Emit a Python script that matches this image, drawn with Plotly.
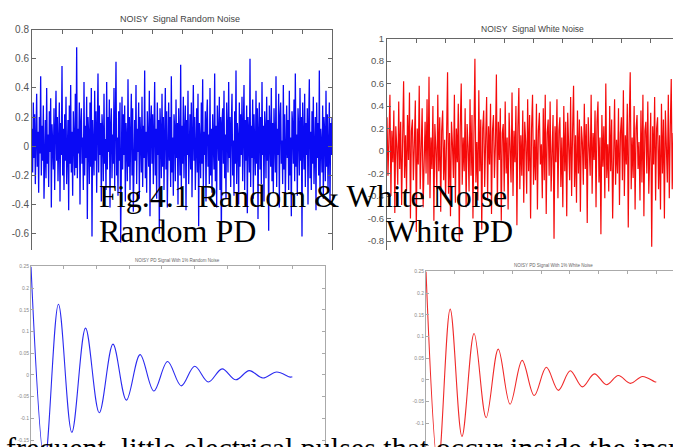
import plotly.graph_objects as go

W, H = 673, 447

# ---------------- data ----------------
random_noise = [
    0.12, -0.18, 0.3, -0.08, 0.22, -0.26, 0.05, 0.36, -0.14, 0.1, -0.32, 0.2, -0.05, 0.48, -0.2, 0.14, -0.1, 0.28, -0.36, 0.06,
    0.18, -0.22, 0.4, -0.12, 0.08, -0.28, 0.24, -0.04, 0.33, -0.42, 0.15, 0.02, -0.16, 0.26, -0.3, 0.1, 0.38, -0.1, 0.2, -0.24,
    0.05, 0.3, -0.38, 0.16, -0.06, 0.55, -0.2, 0.12, -0.3, 0.22, -0.1, 0.34, -0.26, 0.08, 0.18, -0.44, 0.28, -0.12, 0.42, -0.18,
    0.1, -0.34, 0.24, 0.04, -0.2, 0.36, -0.15, 0.68, -0.22, 0.12, -0.05, 0.3, -0.4, 0.16, 0.26, -0.12, 0.06, -0.3, 0.44, -0.2,
    0.14, -0.08, 0.34, -0.5, 0.2, 0.08, -0.26, 0.3, -0.14, 0.4, -0.62, 0.18, 0.02, -0.2, 0.38, -0.1, 0.24, -0.32, 0.12, 0.5,
    -0.18, 0.28, -0.06, 0.16, -0.38, 0.22, 0.1, -0.24, 0.36, -0.12, 0.05, -0.3, 0.44, -0.16, 0.2, -0.04, 0.32, -0.42, 0.14, 0.26,
    -0.22, 0.08, -0.12, 0.4, -0.28, 0.18, 0.58, -0.2, 0.06, -0.34, 0.24, -0.1, 0.3, -0.66, 0.12, 0.34, -0.16, 0.22, -0.06, 0.28,
    -0.38, 0.16, 0.04, -0.24, 0.46, -0.14, 0.2, -0.3, 0.1, 0.36, -0.2, 0.26, -0.45, 0.08, 0.18, -0.1, 0.42, -0.26, 0.12, -0.04,
    0.3, -0.36, 0.2, 0.06, -0.18, 0.34, -0.28, 0.14, -0.08, 0.52, -0.22, 0.1, -0.32, 0.24, 0.02, -0.14, 0.38, -0.48, 0.16, 0.28,
    -0.12, 0.22, -0.26, 0.08, 0.44, -0.2, 0.12, -0.36, 0.3, -0.06, 0.18, -0.6, 0.26, 0.1, -0.22, 0.36, -0.14, 0.2, -0.3, 0.06,
    0.4, -0.16, 0.24, -0.42, 0.14, 0.3, -0.1, 0.2, -0.28, 0.48, -0.18, 0.06, -0.34, 0.22, 0.12, -0.24, 0.32, -0.08, 0.16, -0.4,
    0.26, 0.04, -0.2, 0.56, -0.3, 0.14, -0.12, 0.34, -0.22, 0.1, 0.28, -0.44, 0.18, -0.06, 0.38, -0.26, 0.08, 0.22, -0.16, 0.3,
    -0.35, 0.12, 0.42, -0.1, 0.2, -0.3, 0.06, 0.26, -0.18, 0.36, -0.55, 0.16, 0.04, -0.22, 0.3, -0.12, 0.46, -0.28, 0.1, -0.06,
    0.24, -0.38, 0.18, 0.32, -0.14, 0.08, -0.26, 0.4, -0.2, 0.12, -0.32, 0.22, 0.02, -0.16, 0.5, -0.24, 0.14, -0.42, 0.28, 0.06,
    -0.1, 0.34, -0.3, 0.2, -0.64, 0.16, 0.26, -0.12, 0.38, -0.22, 0.08, -0.36, 0.3, 0.1, -0.18, 0.44, -0.08, 0.2, -0.28, 0.14,
    0.36, -0.2, 0.04, -0.34, 0.24, -0.12, 0.52, -0.26, 0.16, 0.06, -0.4, 0.3, -0.14, 0.22, -0.06, 0.34, -0.24, 0.12, 0.42, -0.3,
    0.18, -0.1, 0.28, -0.46, 0.2, 0.08, -0.18, 0.6, -0.28, 0.14, -0.08, 0.32, -0.36, 0.22, 0.04, -0.2, 0.38, -0.12, 0.26, -0.5,
    0.1, 0.3, -0.16, 0.2, -0.26, 0.44, -0.06, 0.14, -0.38, 0.24, 0.12, -0.22, 0.34, -0.1, 0.18, -0.58, 0.28, 0.06, -0.14, 0.4,
    -0.24, 0.16, -0.32, 0.26, 0.08, -0.18, 0.48, -0.28, 0.12, -0.06, 0.36, -0.42, 0.2, 0.3, -0.12, 0.04, -0.26, 0.42, -0.16, 0.22,
    -0.36, 0.1, 0.28, -0.08, 0.18, -0.3, 0.38, -0.2, 0.06, -0.48, 0.24, 0.14, -0.12, 0.32, -0.24, 0.5, -0.14, 0.08, -0.34, 0.26,
    0.12, -0.2, 0.4, -0.1, 0.2, -0.62, 0.3, 0.04, -0.16, 0.36, -0.28, 0.16, -0.06, 0.26, -0.4, 0.14, 0.46, -0.22, 0.1, -0.3,
    0.24, -0.12, 0.34, -0.26, 0.06, 0.2, -0.44, 0.3, -0.08, 0.16, -0.2, 0.52, -0.32, 0.12, 0.02, -0.18, 0.28, -0.36, 0.2, 0.1,
    -0.24, 0.38, -0.14, 0.22, -0.3, 0.08, 0.3, -0.4, 0.16, -0.06, 0.2,
]

white_noise = [
    0.3, -0.22, 0.12, 0.5, -0.4, 0.18, -0.1, 0.36, -0.55, 0.22, 0.04, -0.3, 0.44, -0.16, 0.26, -0.48, 0.1, 0.62, -0.24, 0.14,
    -0.36, 0.32, -0.08, 0.52, -0.6, 0.18, 0.28, -0.26, 0.06, 0.45, -0.72, 0.2, -0.12, 0.58, -0.34, 0.16, 0.38, -0.5, 0.08, 0.26,
    -0.2, 0.46, -0.3, 0.66, -0.42, 0.12, -0.16, 0.4, -0.62, 0.24, 0.02, -0.34, 0.5, -0.18, 0.3, -0.54, 0.18, 0.36, -0.26, 0.1,
    -0.42, 0.32, 0.7, -0.38, 0.16, -0.58, 0.26, 0.06, -0.24, 0.5, -0.46, 0.2, -0.1, 0.42, -0.8, 0.22, 0.6, -0.3, 0.12, -0.18,
    0.38, -0.5, 0.24, 0.04, -0.36, 0.46, -0.22, 0.32, -0.6, 0.16, 0.82, -0.28, 0.08, -0.44, 0.54, -0.18, 0.28, -0.7, 0.2, 0.36,
    -0.32, 0.1, 0.48, -0.42, 0.22, -0.12, 0.42, -0.56, 0.18, 0.32, -0.24, 0.06, 0.68, -0.48, 0.26, -0.08, 0.38, -0.62, 0.16, 0.24,
    -0.36, 0.44, -0.2, 0.12, -0.52, 0.34, 0.04, -0.28, 0.52, -0.4, 0.18, -0.1, 0.4, -0.66, 0.22, 0.56, -0.34, 0.14, -0.22, 0.36,
    -0.46, 0.26, 0.08, -0.38, 0.46, -0.18, 0.32, -0.6, 0.2, 0.5, -0.3, 0.1, -0.26, 0.42, -0.52, 0.18, 0.34, -0.12, 0.06, -0.42,
    0.38, -0.26, 0.5, -0.56, 0.16, 0.28, -0.22, 0.44, -0.36, 0.08, 0.32, -0.78, 0.22, -0.1, 0.46, -0.42, 0.18, 0.3, -0.32, 0.12,
    -0.5, 0.4, -0.18, 0.26, -0.58, 0.34, 0.04, -0.26, 0.48, -0.4, 0.18, 0.58, -0.32, 0.14, -0.46, 0.36, -0.2, 0.28, -0.54, 0.22,
    0.08, -0.3, 0.42, -0.16, 0.24, -0.64, 0.3, 0.1, -0.22, 0.5, -0.38, 0.16, -0.08, 0.36, -0.5, 0.26, 0.44, -0.28, 0.12, -0.74,
    0.32, -0.14, 0.22, -0.42, 0.6, -0.24, 0.06, -0.36, 0.4, -0.18, 0.28, -0.6, 0.2, 0.46, -0.3, 0.1, -0.2, 0.38, -0.48, 0.16,
    0.3, -0.26, 0.54, -0.4, 0.14, -0.12, 0.42, -0.68, 0.24, 0.7, -0.34, 0.12, -0.24, 0.4, -0.52, 0.2, 0.32, -0.16, 0.08, -0.44,
    0.36, -0.28, 0.5, -0.58, 0.18, 0.26, -0.2, 0.44, -0.38, 0.1, 0.34, -0.85, 0.22, -0.12, 0.48, -0.44, 0.2, 0.3, -0.34, 0.14,
    -0.52, 0.42, -0.2, 0.28, -0.6, 0.36, 0.06, -0.28, 0.5, -0.42, 0.2, 0.64, -0.34, 0.16, -0.48, 0.38, -0.22, 0.3, -0.56, 0.24,
    0.1,
]

# PD signal: extrema (time, value) of the damped oscillation
pd_time = [0, 0.42, 0.84, 1.25, 1.67, 2.09, 2.51, 2.92, 3.34, 3.76, 4.18, 4.6, 5.01, 5.43, 5.85, 6.27, 6.68, 7.1, 7.52, 7.94, 8.0]
pd_random = [0.25, -0.2, 0.163, -0.132, 0.108, -0.087, 0.071, -0.058, 0.047, -0.037, 0.031, -0.025, 0.02, -0.016, 0.014, -0.011, 0.01, -0.007, 0.007, -0.005, -0.004]
pd_white = [0.25, -0.2, 0.163, -0.13, 0.107, -0.087, 0.071, -0.056, 0.045, -0.036, 0.029, -0.024, 0.021, -0.016, 0.014, -0.011, 0.01, -0.008, 0.008, -0.004, -0.005]

noise_ticks_top = [0.8, 0.6, 0.4, 0.2, 0, -0.2, -0.4, -0.6]
noise_labels_top = ["0.8", "0.6", "0.4", "0.2", "0", "-0.2", "-0.4", "-0.6"]
white_ticks = [1, 0.8, 0.6, 0.4, 0.2, 0, -0.2, -0.4, -0.6, -0.8]
white_labels = ["1", "0.8", "0.6", "0.4", "0.2", "0", "-0.2", "-0.4", "-0.6", "-0.8"]
pd_ticks = [0.25, 0.2, 0.15, 0.1, 0.05, 0, -0.05, -0.1, -0.15]
pd_labels = ["0.25", "0.2", "0.15", "0.1", "0.05", "0", "-0.05", "-0.1", "-0.15"]


def px_x(v):
    return v / W


def px_y(v):
    return 1 - v / H


fig = go.Figure()

fig.add_trace(go.Scatter(x=list(range(len(random_noise))), y=random_noise, mode="lines",
                         line=dict(color="#0a0af5", width=1.3), xaxis="x", yaxis="y", showlegend=False))
fig.add_trace(go.Scatter(x=list(range(len(white_noise))), y=white_noise, mode="lines",
                         line=dict(color="#f50a0a", width=1.2), xaxis="x2", yaxis="y2", showlegend=False))
fig.add_trace(go.Scatter(x=pd_time, y=pd_random, mode="lines", line_shape="spline",
                         line=dict(color="#2a2af0", width=1.1, smoothing=1.0), xaxis="x3", yaxis="y3", showlegend=False))
fig.add_trace(go.Scatter(x=pd_time, y=pd_white, mode="lines", line_shape="spline",
                         line=dict(color="#f02a2a", width=1.1, smoothing=1.0), xaxis="x4", yaxis="y4", showlegend=False))

common_x = dict(side="top", showline=True, ticks="inside", showticklabels=False,
                showgrid=False, zeroline=False, fixedrange=True)
common_y = dict(showline=True, ticks="inside", showgrid=False, zeroline=False, fixedrange=True)

fig.update_layout(
    width=W, height=H, margin=dict(l=0, r=0, t=0, b=0),
    paper_bgcolor="white", plot_bgcolor="white", showlegend=False,
    font=dict(family="Arial, Liberation Sans, sans-serif"),
    xaxis=dict(common_x, domain=[px_x(32), px_x(332)], range=[0, 450], dtick=45,
               linecolor="#666", tickcolor="#666", ticklen=4, anchor="y"),
    yaxis=dict(common_y, domain=[px_y(247), px_y(24)], range=[-0.71, 0.8],
               tickvals=noise_ticks_top, ticktext=noise_labels_top, mirror="ticks",
               linecolor="#666", tickcolor="#666", ticklen=4,
               tickfont=dict(size=10, color="#555"), anchor="x"),
    xaxis2=dict(common_x, domain=[px_x(387), 1], range=[0, 292.8], dtick=30,
                linecolor="#666", tickcolor="#666", ticklen=4, anchor="y2"),
    yaxis2=dict(common_y, domain=[px_y(247), px_y(33)], range=[-0.877, 1],
                tickvals=white_ticks, ticktext=white_labels,
                linecolor="#666", tickcolor="#666", ticklen=4,
                tickfont=dict(size=9.5, color="#555"), anchor="x2"),
    xaxis3=dict(common_x, domain=[px_x(31), px_x(325)], range=[0, 9], dtick=1,
                linecolor="#aaa", tickcolor="#aaa", ticklen=3, anchor="y3"),
    yaxis3=dict(common_y, domain=[0, px_y(264)], range=[0.25 - 183 / 440, 0.25],
                tickvals=pd_ticks, ticktext=pd_labels, mirror="ticks",
                linecolor="#aaa", tickcolor="#aaa", ticklen=3,
                tickfont=dict(size=5, color="#888"), anchor="x3"),
    xaxis4=dict(common_x, domain=[px_x(426), 1], range=[0, 8.58], dtick=1,
                linecolor="#aaa", tickcolor="#aaa", ticklen=3, anchor="y4"),
    yaxis4=dict(common_y, domain=[0, px_y(269)], range=[0.25 - 178 / 440, 0.25],
                tickvals=pd_ticks, ticktext=pd_labels,
                linecolor="#aaa", tickcolor="#aaa", ticklen=3,
                tickfont=dict(size=5, color="#888"), anchor="x4"),
)

ann = []


def label(text, x, y, size, color, xanchor="center", family=None):
    f = dict(size=size, color=color)
    if family:
        f["family"] = family
    ann.append(dict(text=text, x=px_x(x), y=px_y(y), xref="paper", yref="paper",
                    xanchor=xanchor, yanchor="middle", showarrow=False, font=f))


# plot titles
label("NOISY  Signal Random Noise", 180, 13, 9, "#444")
label("NOISY  Signal White Noise", 532, 23, 8.5, "#444")
label("NOISY PD Signal With 1% Random Noise", 177, 258, 4.5, "#666")
label("NOISY PD Signal With 1% White Noise", 553, 263, 4.5, "#666")
# document text overlaid on the figure
serif = "Liberation Serif, Times New Roman, serif"
label("Fig.4.1 Random &amp; White Noise", 97, 193, 32, "black", "left", serif)
label("Random PD", 97, 228, 32, "black", "left", serif)
label("White PD", 384, 228, 32, "black", "left", serif)
label("frequent, little electrical pulses that occur inside the insulation", 4, 448, 30, "black", "left", serif)
fig.update_layout(annotations=ann)

fig.write_html("out.html", config={"displayModeBar": False},
               post_script="document.body.style.margin='0';document.body.style.overflow='hidden';")
